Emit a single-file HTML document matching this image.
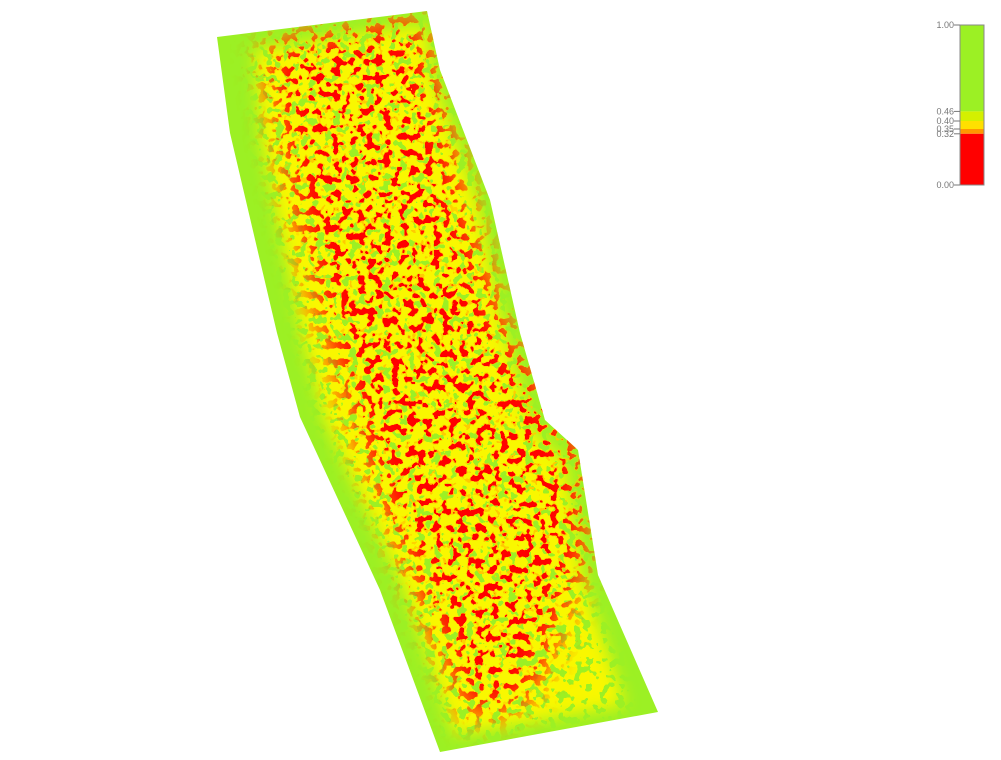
<!DOCTYPE html>
<html><head><meta charset="utf-8"><style>
html,body{margin:0;padding:0;background:#fff;width:1001px;height:760px;overflow:hidden}
svg{display:block}
text{font-family:"Liberation Sans",sans-serif;font-size:9px;fill:#777}
</style></head><body>
<svg id="chart" width="1001" height="760" viewBox="0 0 1001 760">
<defs>
 <clipPath id="fieldClip"><polygon points="217,37 427,11 440,70 490,200 520,333 545,420 578,450 598,575 658,712 440,752 380,590 300,417 277,333 230,133"/></clipPath>
 <filter id="blur20" x="-20%" y="-20%" width="140%" height="140%"><feGaussianBlur stdDeviation="16"/></filter>
 <filter id="blur10" x="-20%" y="-20%" width="140%" height="140%"><feGaussianBlur stdDeviation="8"/></filter>
 <mask id="yMask" maskUnits="userSpaceOnUse" x="0" y="0" width="1001" height="760">
  <polygon fill="#fff" filter="url(#blur10)" points="255,50 425,25 432,75 478,205 505,335 532,430 565,462 583,580 625,705 455,735 405,590 325,420 302,333 262,140"/>
 </mask>
 <mask id="rMask" maskUnits="userSpaceOnUse" x="0" y="0" width="1001" height="760">
  <polygon fill="#fff" filter="url(#blur20)" points="265,45 420,18 465,200 505,330 580,450 585,560 530,700 470,720 430,620 370,470 325,330 290,190"/>
 </mask>
 <filter id="yNoise" x="0" y="0" width="100%" height="100%" filterUnits="userSpaceOnUse">
  <feTurbulence type="fractalNoise" baseFrequency="0.12" numOctaves="2" seed="3"/>
  <feColorMatrix type="matrix" values="0 0 0 0 0.95  0 0 0 0 0.93  0 0 0 0 0  1.6 0 0 0 -0.3"/>
  <feComponentTransfer><feFuncA type="discrete" tableValues="0 0 0 1 1 1 1 1"/></feComponentTransfer>
 </filter>
 <filter id="oNoise" x="0" y="0" width="100%" height="100%" filterUnits="userSpaceOnUse">
  <feTurbulence type="fractalNoise" baseFrequency="0.12" numOctaves="2" seed="11"/>
  <feColorMatrix type="matrix" values="0 0 0 0 1  0 0 0 0 0.6  0 0 0 0 0  1.6 0 0 0 -0.3"/>
  <feComponentTransfer><feFuncA type="discrete" tableValues="0 0 0 0 0 0 1 1 1 1 1"/></feComponentTransfer>
 </filter>
 <filter id="rNoise" x="0" y="0" width="100%" height="100%" filterUnits="userSpaceOnUse">
  <feTurbulence type="fractalNoise" baseFrequency="0.12" numOctaves="2" seed="11"/>
  <feColorMatrix type="matrix" values="0 0 0 0 1  0 0 0 0 0  0 0 0 0 0  1.6 0 0 0 -0.3"/>
  <feComponentTransfer><feFuncA type="discrete" tableValues="0 0 0 0 0 0 0 1 1 1 1"/></feComponentTransfer>
 </filter>
</defs>
<g clip-path="url(#fieldClip)">
 <rect x="200" y="0" width="480" height="760" fill="#9cf024"/>
 <g mask="url(#yMask)"><rect x="200" y="0" width="480" height="760" filter="url(#yNoise)"/></g>
 <g mask="url(#rMask)"><rect x="200" y="0" width="480" height="760" filter="url(#oNoise)"/></g>
 <g mask="url(#rMask)"><rect x="200" y="0" width="480" height="760" filter="url(#rNoise)"/></g>
</g>
<g id="legend"></g>
</svg>
<script>
const bandStops=[1.00,0.46,0.40,0.35,0.32,0.00];
const bandColors=["#9cf024","#d4f000","#ffe000","#ff9900","#ff0000"];
const tickLabels=["1.00","0.46","0.40","0.35","0.32","0.00"];
const L=document.getElementById('legend'),NS='http://www.w3.org/2000/svg';
const y0=25,y1=185,x=960,w=24;
const sy=v=>y1-(y1-y0)*v;
for(let i=0;i<bandColors.length;i++){
 const r=document.createElementNS(NS,'rect');
 
 
 r.setAttribute('x',x);r.setAttribute('y',sy(bandStops[i]));r.setAttribute('width',w);
 r.setAttribute('height',sy(bandStops[i+1])-sy(bandStops[i]));r.setAttribute('fill',bandColors[i]);
 L.appendChild(r);
}
const fr=document.createElementNS(NS,'rect');


fr.setAttribute('x',x);fr.setAttribute('y',y0);fr.setAttribute('width',w);fr.setAttribute('height',y1-y0);
fr.setAttribute('fill','none');fr.setAttribute('stroke','#888');fr.setAttribute('stroke-width','1');L.appendChild(fr);
for(let i=0;i<tickLabels.length;i++){
 const yy=sy(bandStops[i]);
 const ln=document.createElementNS(NS,'line');
 
 
 ln.setAttribute('x1',x-6);ln.setAttribute('x2',x);ln.setAttribute('y1',yy);ln.setAttribute('y2',yy);ln.setAttribute('stroke','#777');
 L.appendChild(ln);
 const t=document.createElementNS(NS,'text');
 
 
 t.setAttribute('x',x-6);t.setAttribute('y',yy+3);t.setAttribute('text-anchor','end');
 t.textContent=tickLabels[i];L.appendChild(t);
}
</script>
</body></html>
